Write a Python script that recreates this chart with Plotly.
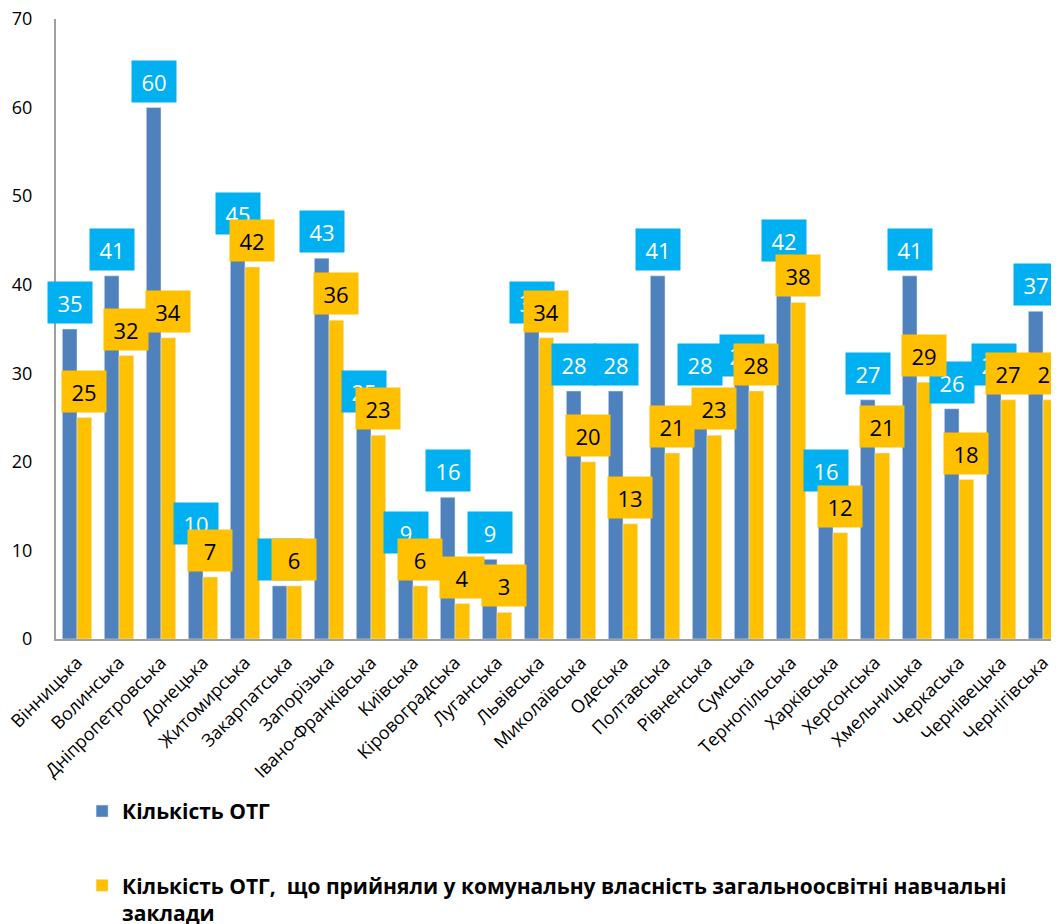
import plotly.graph_objects as go

# Області
oblasti = ['Вінницька', 'Волинська', 'Дніпропетровська', 'Донецька', 'Житомирська',
           'Закарпатська', 'Запорізька', 'Івано-Франківська', 'Київська', 'Кіровоградська',
           'Луганська', 'Львівська', 'Миколаївська', 'Одеська', 'Полтавська', 'Рівненська',
           'Сумська', 'Тернопільська', 'Харківська', 'Херсонська', 'Хмельницька',
           'Черкаська', 'Чернівецька', 'Чернігівська']

# Кількість ОТГ
kilkist_otg = [35, 41, 60, 10, 45, 6, 43, 25, 9, 16, 9, 35, 28, 28, 41, 28, 29, 42, 16, 27, 41, 26, 28, 37]

# Кількість ОТГ, що прийняли заклади
kilkist_zaklady = [25, 32, 34, 7, 42, 6, 36, 23, 6, 4, 3, 34, 20, 13, 21, 23, 28, 38, 12, 21, 29, 18, 27, 27]

y_ticks = [0, 10, 20, 30, 40, 50, 60, 70]

name_1 = 'Кількість ОТГ'
name_2 = 'Кількість ОТГ,\u00a0 що прийняли у комунальну власність загальноосвітні навчальні<br>заклади'

FONT = 'Open Sans'
BLUE = '#4F81BD'
YELLOW = '#FFC000'
LABEL_BLUE = '#00B0F0'

fig = go.Figure()
fig.add_trace(go.Bar(x=oblasti, y=kilkist_otg, name=name_1, marker_color=BLUE,
                     legendgroup='a'))
fig.add_trace(go.Bar(x=oblasti, y=kilkist_zaklady, name=name_2, marker_color=YELLOW,
                     legendgroup='b'))

# підписи даних у вигляді кольорових прямокутників
annotations = []
for obl, v in zip(oblasti, kilkist_otg):
    annotations.append(dict(x=obl, y=v, xref='x', yref='y', text=str(v), showarrow=False,
                            xshift=-7.3, yshift=5, yanchor='bottom', width=44, height=41,
                            bgcolor=LABEL_BLUE, borderpad=0,
                            font=dict(family=FONT, size=22, color='white')))
for obl, v in zip(oblasti, kilkist_zaklady):
    annotations.append(dict(x=obl, y=v, xref='x', yref='y', text=str(v), showarrow=False,
                            xshift=7.3, yshift=5, yanchor='bottom', width=44, height=41,
                            bgcolor=YELLOW, borderpad=0,
                            font=dict(family=FONT, size=22, color='black')))

# сторінка має відступ 8px, тому поля трохи менші; низ фігури виходить за вікно,
# щоб легенда не стискала область графіка
fig.update_layout(
    width=1051, height=960,
    margin=dict(l=48, r=0, t=11, b=329),
    plot_bgcolor='white', paper_bgcolor='white',
    barmode='group', bargap=0.3, bargroupgap=0,
    font=dict(family=FONT, color='black'),
    annotations=annotations,
    showlegend=True,
    legend=dict(x=0.026, y=-0.245, xanchor='left', yanchor='top', orientation='v',
                tracegroupgap=44, valign='top', itemwidth=30,
                font=dict(family=FONT, size=21, color='black', weight='bold')),
)
fig.update_xaxes(range=[-0.5, 23.38], tickangle=-45, showline=True, linecolor='#A0A0A0',
                 linewidth=2, showgrid=False, tickfont=dict(size=18, color='black'),
                 ticks='', ticklabelstandoff=4, automargin=False)
fig.update_yaxes(range=[0, 70], tickvals=y_ticks, showline=True, linecolor='#A0A0A0',
                 linewidth=2, showgrid=False, zeroline=False, ticks='', automargin=False,
                 tickfont=dict(size=18, color='black'), ticklabelstandoff=18,
                 ticklabeloverflow='allow')

fig.write_html("out.html")
